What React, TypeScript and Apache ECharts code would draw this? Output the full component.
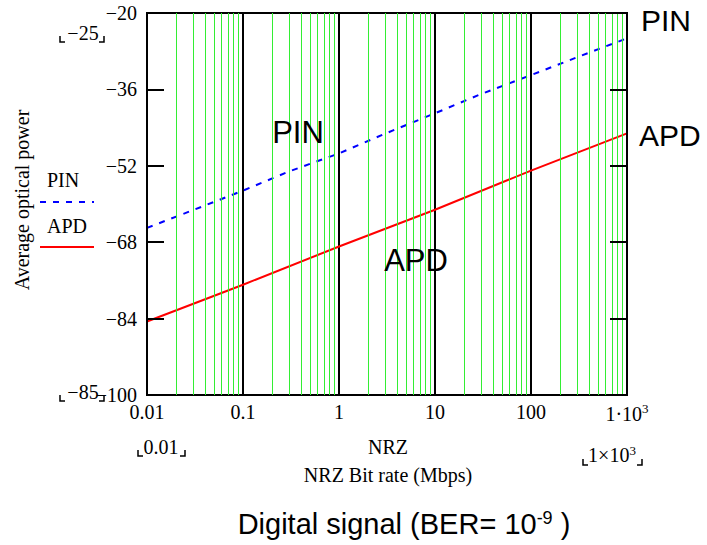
import React, { useEffect, useRef } from 'react';
import * as echarts from 'echarts';

// ---- data ----
const bitRates = [0.01, 0.03, 0.1, 0.3, 1, 3, 10, 30, 100, 300, 1000];
const pinPower = [-65, -61.3, -57.2, -53.2, -49.4, -45.3, -41, -37, -33, -29.3, -25.3];
const apdRates = [0.01, 0.1, 1, 10, 100, 1000];
const apdPower = [-84.6, -76.9, -68.9, -61.2, -53, -45.2];
const decades = [0.01, 0.1, 1, 10, 100, 1000];
const xTickLabels = ['0.01', '0.1', '1', '10', '100', '1·10{s|3}'];
const minorMultipliers = [2, 3, 4, 5, 6, 7, 8, 9];
const yMin = -100;
const yMax = -20;
const yStep = 16;

const SERIF = '"Liberation Serif", "Times New Roman", serif';
const SANS = '"Liberation Sans", Arial, sans-serif';

const minorGrid = decades.slice(0, decades.length - 1).flatMap((d) => minorMultipliers.map((m) => d * m));

function bracket(x: number, y: number, dir: 1 | -1) {
  return {
    type: 'polyline',
    shape: { points: [[x, y - 6], [x, y], [x + dir * 5, y]] },
    style: { stroke: '#000', lineWidth: 1.5, fill: null },
    silent: true,
  };
}

export default function App() {
  const ref = useRef<HTMLDivElement>(null);
  useEffect(() => {
    if (!ref.current) return;
    const chart = echarts.init(ref.current, undefined, { renderer: 'svg' });
    const option: any = {
      animation: false,
      backgroundColor: '#fff',
      grid: { left: 147, right: 80, top: 13, bottom: 150, show: true, borderColor: '#000', borderWidth: 2, backgroundColor: 'transparent' },
      xAxis: {
        type: 'log',
        logBase: 10,
        min: 0.01,
        max: 1000,
        axisLine: { show: true, lineStyle: { color: '#000', width: 2 } },
        axisTick: { show: false },
        splitLine: { show: true, lineStyle: { color: '#000', width: 2 } },
        axisLabel: {
          show: true,
          margin: 7,
          color: '#000',
          fontFamily: SERIF,
          fontSize: 20,
          showMinLabel: true,
          showMaxLabel: true,
          formatter: (v: number) => {
            let best = 0;
            decades.forEach((d, i) => {
              if (Math.abs(Math.log10(d) - Math.log10(v)) < Math.abs(Math.log10(decades[best]) - Math.log10(v))) best = i;
            });
            return xTickLabels[best];
          },
          rich: { s: { fontSize: 13, fontFamily: SERIF, color: '#000', verticalAlign: 'top', padding: [0, 0, 10, 0] } },
        },
      },
      yAxis: [
        {
          type: 'value',
          min: yMin,
          max: yMax,
          interval: yStep,
          position: 'left',
          z: 5,
          axisLine: { show: true, lineStyle: { color: '#000', width: 2 } },
          axisTick: { show: true, inside: true, length: 17, lineStyle: { color: '#000', width: 2 } },
          splitLine: { show: false },
          axisLabel: {
            margin: 10,
            color: '#000',
            fontFamily: SERIF,
            fontSize: 20,
            formatter: (v: number) => (v < 0 ? '\u2212' + Math.abs(v) : String(v)),
          },
        },
        {
          type: 'value',
          min: yMin,
          max: yMax,
          interval: yStep,
          position: 'right',
          z: 5,
          axisLine: { show: true, lineStyle: { color: '#000', width: 2 } },
          axisTick: { show: true, inside: true, length: 17, lineStyle: { color: '#000', width: 2 } },
          splitLine: { show: false },
          axisLabel: { show: false },
        },
      ],
      series: [
        {
          name: 'grid-minor',
          type: 'line',
          data: [],
          z: 1,
          silent: true,
          markLine: {
            silent: true,
            symbol: 'none',
            label: { show: false },
            lineStyle: { color: '#33ee33', width: 1, type: 'solid' },
            emphasis: { disabled: true },
            data: minorGrid.map((v) => ({ xAxis: v })),
          },
        },
        {
          name: 'PIN',
          type: 'line',
          z: 3,
          symbol: 'none',
          data: bitRates.map((x, i) => [x, pinPower[i]]),
          lineStyle: { color: '#0000ff', width: 2, type: [6, 7] },
        },
        {
          name: 'APD',
          type: 'line',
          z: 3,
          symbol: 'none',
          data: apdRates.map((x, i) => [x, apdPower[i]]),
          lineStyle: { color: '#ff0000', width: 2 },
        },
      ],
      graphic: [
        { type: 'text', x: 22, y: 200, rotation: Math.PI / 2, style: { text: 'Average optical power', fontFamily: SERIF, fontSize: 20, fill: '#000', align: 'center', verticalAlign: 'middle' } },
        { type: 'text', x: 83, y: 33, style: { text: '\u221225', fontFamily: SERIF, fontSize: 20, fill: '#000', align: 'center', verticalAlign: 'middle' } },
        bracket(60, 42, 1),
        bracket(104, 42, -1),
        { type: 'text', x: 83, y: 392, style: { text: '\u221285', fontFamily: SERIF, fontSize: 20, fill: '#000', align: 'center', verticalAlign: 'middle' } },
        bracket(60, 401, 1),
        bracket(104, 401, -1),
        { type: 'text', x: 47, y: 180, style: { text: 'PIN', fontFamily: SERIF, fontSize: 20, fill: '#000', align: 'left', verticalAlign: 'middle' } },
        { type: 'line', shape: { x1: 40, y1: 202, x2: 94, y2: 202 }, style: { stroke: '#0000ff', lineWidth: 2, lineDash: [6, 7] } },
        { type: 'text', x: 47, y: 226, style: { text: 'APD', fontFamily: SERIF, fontSize: 20, fill: '#000', align: 'left', verticalAlign: 'middle' } },
        { type: 'line', shape: { x1: 40, y1: 247, x2: 94, y2: 247 }, style: { stroke: '#ff0000', lineWidth: 2 } },
        { type: 'text', x: 161, y: 447, style: { text: '0.01', fontFamily: SERIF, fontSize: 20, fill: '#000', align: 'center', verticalAlign: 'middle' } },
        bracket(138, 456, 1),
        bracket(185, 456, -1),
        { type: 'text', x: 388, y: 447, style: { text: 'NRZ', fontFamily: SERIF, fontSize: 20, fill: '#000', align: 'center', verticalAlign: 'middle' } },
        { type: 'text', x: 388, y: 475, style: { text: 'NRZ Bit rate (Mbps)', fontFamily: SERIF, fontSize: 20, fill: '#000', align: 'center', verticalAlign: 'middle' } },
        { type: 'text', x: 612, y: 455, style: { text: '1×10{s|3}', fontFamily: SERIF, fontSize: 20, fill: '#000', align: 'center', verticalAlign: 'middle', rich: { s: { fontSize: 13, fontFamily: SERIF, fill: '#000', verticalAlign: 'top', padding: [0, 0, 10, 0] } } } },
        bracket(583, 465, 1),
        bracket(642, 465, -1),
        { type: 'text', x: 298, y: 132, z: 10, style: { text: 'PIN', fontFamily: SANS, fontSize: 31, fill: '#000', align: 'center', verticalAlign: 'middle' } },
        { type: 'text', x: 416, y: 260, z: 10, style: { text: 'APD', fontFamily: SANS, fontSize: 31, fill: '#000', align: 'center', verticalAlign: 'middle' } },
        { type: 'text', x: 641, y: 20, style: { text: 'PIN', fontFamily: SANS, fontSize: 30, fill: '#000', align: 'left', verticalAlign: 'middle' } },
        { type: 'text', x: 639, y: 135, style: { text: 'APD', fontFamily: SANS, fontSize: 30, fill: '#000', align: 'left', verticalAlign: 'middle' } },
        { type: 'text', x: 404, y: 524, style: { text: 'Digital signal (BER= 10{sup|-9} )', fontFamily: SANS, fontSize: 29, fill: '#000', align: 'center', verticalAlign: 'middle', rich: { sup: { fontSize: 18, fontFamily: SANS, fill: '#000', verticalAlign: 'top', padding: [0, 0, 12, 0] } } } },
      ],
    };
    chart.setOption(option);
    return () => chart.dispose();
  }, []);
  return <div ref={ref} style={{ position: 'absolute', left: 0, top: 0, width: 707, height: 545 }} />;
}
